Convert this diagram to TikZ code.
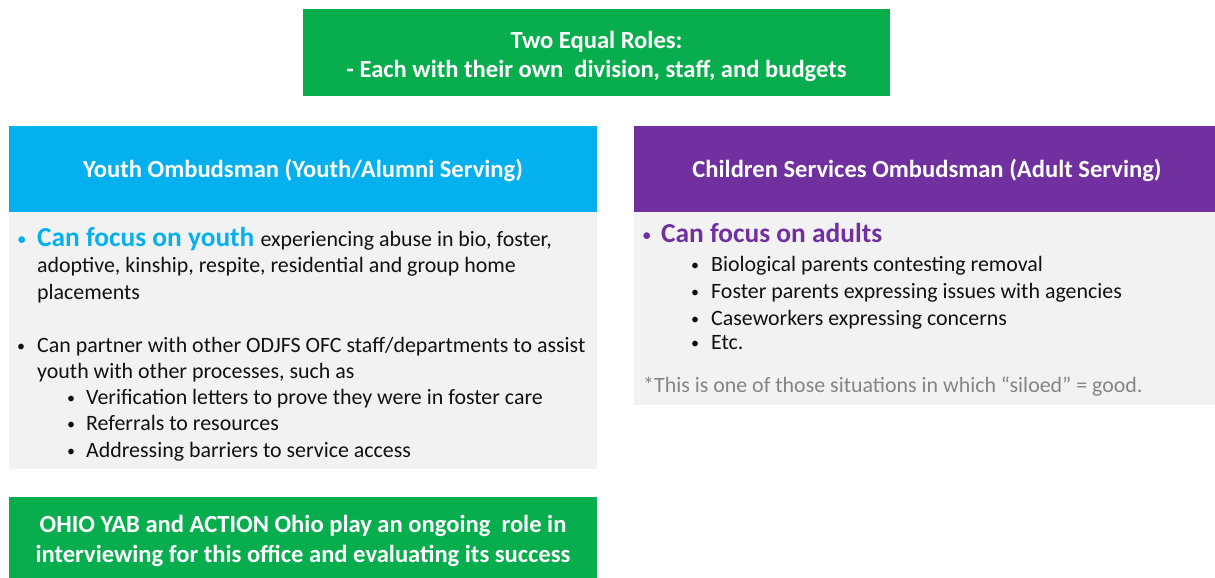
\documentclass[tikz,border=0pt]{standalone}
\usepackage{fontspec}
\setmainfont{Carlito}
\definecolor{cgreen}{HTML}{08AE4D}
\definecolor{cblue}{HTML}{05B0EF}
\definecolor{cpurple}{HTML}{7030A0}
\definecolor{cgray}{HTML}{F2F2F2}
\definecolor{ctext}{HTML}{111111}
\definecolor{cnote}{HTML}{858585}
\begin{document}
\begin{tikzpicture}[x=1pt,y=-1pt,
  hdr/.style={inner sep=0,text=white,font=\fontsize{24.6}{28}\selectfont\bfseries,align=center},
  body/.style={inner sep=0,anchor=base west,text=ctext,font=\fontsize{21.9}{26}\selectfont},
  bul/.style={inner sep=0,anchor=base west,text=ctext,font=\fontsize{16}{20}\selectfont},
  big/.style={inner sep=0,anchor=base west,font=\fontsize{27.4}{32}\selectfont\bfseries},
  note/.style={inner sep=0,anchor=base west,text=cnote,font=\fontsize{21.9}{26}\selectfont}]
\useasboundingbox (0,0) rectangle (1215,578);
% boxes
\fill[cgreen] (303,9) rectangle (890,96);
\fill[cblue] (9,126) rectangle (597,212);
\fill[cgray] (9,212) rectangle (597,469);
\fill[cpurple] (634,126) rectangle (1215,212);
\fill[cgray] (634,212) rectangle (1215,405);
\fill[cgreen] (9,497) rectangle (597,578);
% top
\node[hdr] (t1) at (596.5,42) {Two Equal Roles:};
\node[hdr] (t2) at (596.5,71) {- Each with their own\ \ division, staff, and budgets};
% headers
\node[hdr] (yh) at (303,170) {Youth Ombudsman (Youth/Alumni Serving)};
\node[hdr] (ch) at (927,170) {Children Services Ombudsman (Adult Serving)};
% left body
\node[bul,text=cblue,font=\fontsize{19}{22}\selectfont] (lb1) at (17,245) {\textbullet};
\node[inner sep=0,anchor=base west] (l1) at (37,246) {\fontsize{27.4}{32}\selectfont\bfseries\color{cblue}Can focus on youth \fontsize{21.9}{26}\mdseries\color{ctext}experiencing abuse in bio, foster,};
\node[body] (l2) at (37,272) {adoptive, kinship, respite, residential and group home};
\node[body] (l3) at (37,299) {placements};
\node[bul] (lb4) at (17,351) {\textbullet};
\node[body] (l4) at (37,352) {Can partner with other ODJFS OFC staff/departments to assist};
\node[body] (l5) at (37,378) {youth with other processes, such as};
\node[bul] (lb6) at (67,403) {\textbullet};
\node[body] (l6) at (86,404) {Verification letters to prove they were in foster care};
\node[bul] (lb7) at (67,429) {\textbullet};
\node[body] (l7) at (86,430) {Referrals to resources};
\node[bul] (lb8) at (67,456) {\textbullet};
\node[body] (l8) at (86,457) {Addressing barriers to service access};
% right body
\node[bul,text=cpurple,font=\fontsize{19}{22}\selectfont] (rb1) at (642,241) {\textbullet};
\node[big,text=cpurple] (r1) at (661,242) {Can focus on adults};
\node[bul] (rb2) at (691,270) {\textbullet};
\node[body] (r2) at (711,271) {Biological parents contesting removal};
\node[bul] (rb3) at (691,297) {\textbullet};
\node[body] (r3) at (711,298) {Foster parents expressing issues with agencies};
\node[bul] (rb4) at (691,324) {\textbullet};
\node[body] (r4) at (711,325) {Caseworkers expressing concerns};
\node[bul] (rb5) at (691,348) {\textbullet};
\node[body] (r5) at (711,349) {Etc.};
\node[note] (rn) at (643,392) {*This is one of those situations in which “siloed” = good.};
% bottom
\node[hdr] (b1) at (303,526) {OHIO YAB and ACTION Ohio play an ongoing\ \ role in};
\node[hdr] (b2) at (303,556) {interviewing for this office and evaluating its success};
\end{tikzpicture}
\end{document}
